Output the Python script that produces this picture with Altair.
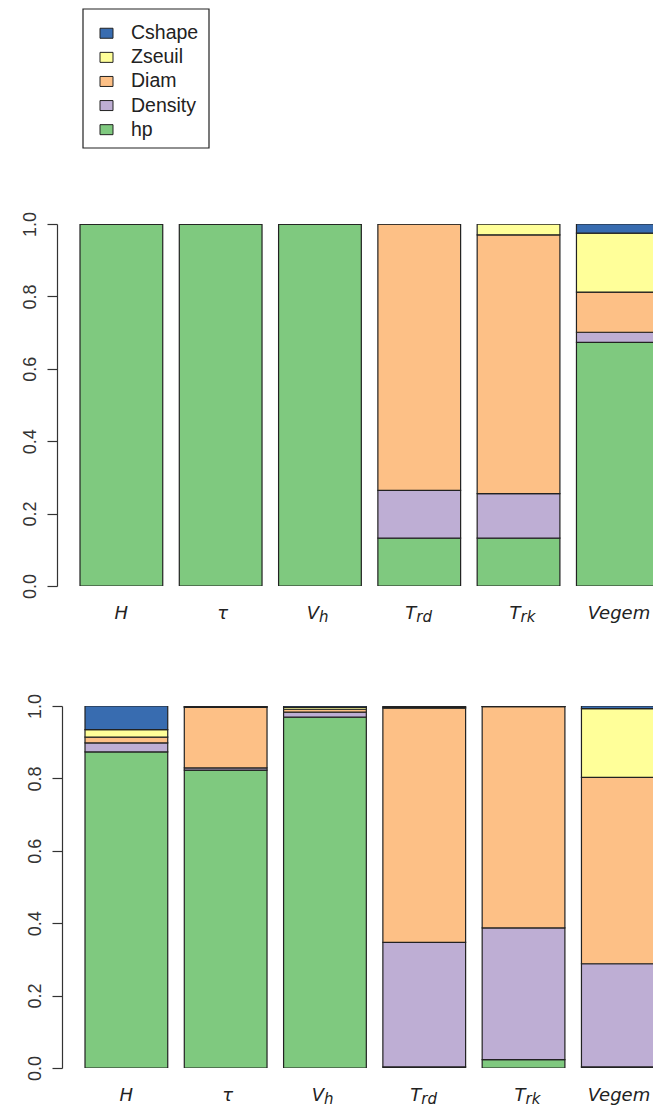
import altair as alt
import pandas as pd

# ---------------- data ----------------
categories = ["H", "τ", "Vh", "Trd", "Trk", "Vegem"]
series = ["Cshape", "Zseuil", "Diam", "Density", "hp"]
colors = ["#386CB0", "#FFFF99", "#FDC086", "#BEAED4", "#7FC97F"]

top_hp      = [1.000, 1.000, 1.000, 0.132, 0.132, 0.673]
top_density = [0.000, 0.000, 0.000, 0.132, 0.123, 0.028]
top_diam    = [0.000, 0.000, 0.000, 0.736, 0.715, 0.111]
top_zseuil  = [0.000, 0.000, 0.000, 0.000, 0.030, 0.163]
top_cshape  = [0.000, 0.000, 0.000, 0.000, 0.000, 0.025]

bot_hp      = [0.873, 0.823, 0.969, 0.003, 0.023, 0.003]
bot_density = [0.025, 0.006, 0.014, 0.344, 0.364, 0.285]
bot_diam    = [0.016, 0.167, 0.008, 0.647, 0.611, 0.515]
bot_zseuil  = [0.021, 0.002, 0.005, 0.003, 0.001, 0.190]
bot_cshape  = [0.065, 0.002, 0.004, 0.003, 0.001, 0.007]

label_main = ["H", "τ", "V", "T", "T", "Vegem"]
label_sub  = ["", "", "h", "rd", "rk", ""]

y_ticks = [0.0, 0.2, 0.4, 0.6, 0.8, 1.0]

# ---------------- styles ----------------
INK = "#222222"
AXIS_INK = "#333333"
PLOT_W = 596
PLOT_H = 362


def label_style(vegem_dx):
    # (align of main text, dx) per category label
    return {
        "H": ("center", 0),
        "τ": ("center", 2),
        "Vh": ("right", -1),
        "Trd": ("right", -3),
        "Trk": ("right", 2),
        "Vegem": ("left", vegem_dx),
    }


def long_table(hp, density, diam, zseuil, cshape):
    rows = []
    stack_order = [("hp", hp), ("Density", density), ("Diam", diam),
                   ("Zseuil", zseuil), ("Cshape", cshape)]
    for k, (name, vals) in enumerate(stack_order):
        for c, v in zip(categories, vals):
            rows.append({"cat": c, "series": name, "value": v, "ord": k})
    return pd.DataFrame(rows)


labels_df = pd.DataFrame({"cat": categories, "main": label_main, "sub": label_sub})

color_scale = alt.Scale(domain=series, range=colors)


def panel(df, x_start, axis_offset, vegem_dx):
    # band scale: 6 bars, step ~99.3 px, bar width ~82.7 px (R space = 0.2)
    xscale = alt.Scale(range=[x_start, x_start + 579.2],
                       paddingInner=0.1667, paddingOuter=0)
    x = alt.X("cat:N", sort=categories, scale=xscale, axis=None)
    bars = alt.Chart(df).mark_bar(stroke=INK, strokeWidth=1.2, clip=True).encode(
        x=x,
        y=alt.Y("value:Q", stack="zero",
                scale=alt.Scale(domain=[0, 1], nice=False, zero=True),
                axis=alt.Axis(values=y_ticks, format=".1f", labelAngle=-90,
                              tickSize=10, grid=False, title=None,
                              offset=axis_offset,
                              domainColor=AXIS_INK, tickColor=AXIS_INK,
                              labelColor=AXIS_INK, labelFont="Liberation Sans",
                              labelFontSize=18, labelPadding=8,
                              labelFlush=False, labelOverlap=False,
                              domainWidth=1.2, tickWidth=1.2)),
        color=alt.Color("series:N", scale=color_scale, legend=None),
        order=alt.Order("ord:Q"),
    )
    styles = label_style(vegem_dx)
    layers = [bars]
    for c in categories:
        align, dx = styles[c]
        base = alt.Chart(labels_df).transform_filter(alt.datum.cat == c)
        layers.append(
            base.mark_text(font="DejaVu Sans", fontStyle="italic", fontSize=18,
                           align=align, baseline="middle", dx=dx, dy=28,
                           color=INK).encode(
                x=alt.X("cat:N", sort=categories),
                y=alt.datum(0),
                text="main:N",
            )
        )
        if c in ("Vh", "Trd", "Trk"):
            layers.append(
                base.mark_text(font="DejaVu Sans", fontStyle="italic", fontSize=15,
                               align="left", baseline="middle", dx=dx, dy=31,
                               color=INK).encode(
                    x=alt.X("cat:N", sort=categories),
                    y=alt.datum(0),
                    text="sub:N",
                )
            )
    return alt.layer(*layers).properties(width=PLOT_W, height=PLOT_H)


top = panel(long_table(top_hp, top_density, top_diam, top_zseuil, top_cshape),
            23, 0, -30)
bottom = panel(long_table(bot_hp, bot_density, bot_diam, bot_zseuil, bot_cshape),
               28, -5, -35)

# ---------------- legend panel ----------------
leg_df = pd.DataFrame({"series": series})
leg_y = alt.Y("series:N", sort=series, axis=None,
              scale=alt.Scale(paddingInner=0, paddingOuter=0.384, align=0.66))
keys = alt.Chart(leg_df).mark_bar(size=10, stroke=INK, strokeWidth=1).encode(
    y=leg_y, x=alt.value(43), x2=alt.value(56),
    color=alt.Color("series:N", scale=color_scale, legend=None),
)
texts = alt.Chart(leg_df).mark_text(align="left", baseline="middle",
                                    font="Liberation Sans", fontSize=19.5,
                                    color=INK).encode(
    y=leg_y, x=alt.value(74), text="series:N",
)
box = alt.Chart(pd.DataFrame({"series": ["box"]})).mark_rect(
    fill="transparent", stroke=INK, strokeWidth=1.2).encode(
    x=alt.value(26), x2=alt.value(152), y=alt.value(0), y2=alt.value(139),
)
legend = alt.layer(box, keys, texts).properties(width=160, height=139)

upper = alt.vconcat(legend, top, spacing=62)
chart = alt.vconcat(upper, bottom, spacing=68).properties(
    padding={"left": 13, "top": 0, "right": 0, "bottom": 0},
    background="white",
).configure_view(stroke=None)

chart.save("out.html", embed_options={"renderer": "svg", "actions": False})
